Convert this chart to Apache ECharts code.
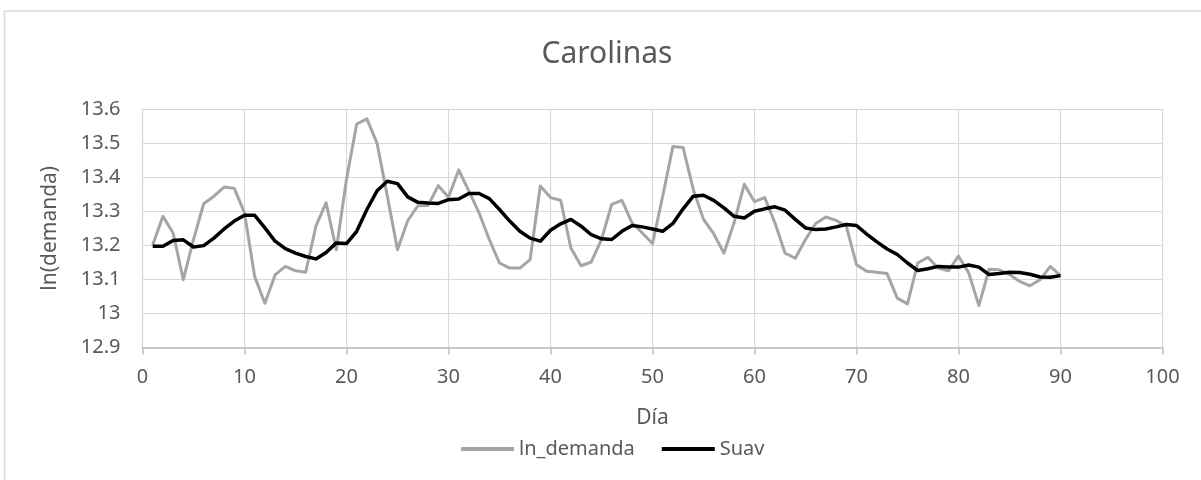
<!DOCTYPE html>
<html>
<head>
<meta charset="utf-8">
<script src="https://cdn.jsdelivr.net/npm/echarts@6/dist/echarts.min.js"></script>
<style>
html,body{margin:0;padding:0;background:#fff;}
#chart{width:1201px;height:480px;}
</style>
</head>
<body>
<div id="chart"></div>
<script>
const titleText = 'Carolinas';
const xName = 'Día';
const yName = 'ln(demanda)';
const seriesNames = ['ln_demanda', 'Suav'];
const days = Array.from({length: 90}, (_, i) => i + 1);
const lnDemanda = [
  13.201, 13.285, 13.236, 13.099, 13.217, 13.322, 13.344, 13.371, 13.367, 13.295,
  13.108, 13.030, 13.113, 13.138, 13.125, 13.121, 13.256, 13.325, 13.187, 13.394,
  13.556, 13.571, 13.499, 13.345, 13.187, 13.272, 13.316, 13.317, 13.375, 13.341,
  13.421, 13.359, 13.295, 13.217, 13.148, 13.133, 13.133, 13.158, 13.374, 13.340,
  13.332, 13.192, 13.140, 13.151, 13.217, 13.320, 13.332, 13.266, 13.236, 13.205,
  13.344, 13.490, 13.487, 13.364, 13.276, 13.234, 13.177, 13.266, 13.379, 13.328,
  13.340, 13.266, 13.177, 13.162, 13.217, 13.264, 13.283, 13.273, 13.256, 13.143,
  13.124, 13.121, 13.117, 13.045, 13.028, 13.148, 13.165, 13.133, 13.125, 13.168,
  13.119, 13.023, 13.130, 13.128, 13.114, 13.094, 13.081, 13.099, 13.138, 13.111
];
const suav = [
  13.197, 13.197, 13.214, 13.216, 13.195, 13.199, 13.221, 13.248, 13.271, 13.288,
  13.288, 13.251, 13.212, 13.190, 13.177, 13.167, 13.160, 13.179, 13.207, 13.205,
  13.241, 13.305, 13.360, 13.388, 13.381, 13.342, 13.326, 13.324, 13.323, 13.334,
  13.336, 13.352, 13.352, 13.337, 13.305, 13.271, 13.241, 13.221, 13.212, 13.244,
  13.263, 13.276, 13.256, 13.231, 13.219, 13.217, 13.241, 13.258, 13.254, 13.248,
  13.241, 13.264, 13.307, 13.344, 13.347, 13.332, 13.310, 13.285, 13.280, 13.300,
  13.307, 13.313, 13.303, 13.276, 13.251, 13.246, 13.248, 13.254, 13.261, 13.258,
  13.233, 13.210, 13.189, 13.173, 13.148, 13.126, 13.131, 13.138, 13.136, 13.136,
  13.142, 13.136, 13.114, 13.117, 13.121, 13.120, 13.115, 13.107, 13.106, 13.111
];

const font = 'Noto Sans';
const txt = '#595959';
const chart = echarts.init(document.getElementById('chart'));
chart.setOption({
  backgroundColor: '#fff',
  animation: false,
  textStyle: {fontFamily: font},
  graphic: [{
    type: 'rect',
    shape: {x: 4.5, y: 11, width: 1220, height: 500},
    style: {fill: 'none', stroke: '#D9D9D9', lineWidth: 1.5},
    silent: true
  }],
  title: {
    text: titleText,
    left: 607,
    top: 54,
    textAlign: 'center',
    textVerticalAlign: 'middle',
    padding: 0,
    textStyle: {fontFamily: font, fontSize: 30, fontWeight: 'normal', color: txt}
  },
  grid: {left: 142.5, right: 38.5, top: 109, bottom: 132.5, containLabel: false},
  legend: {
    left: 456,
    top: 434,
    itemWidth: 53,
    itemHeight: 4,
    itemGap: 27,
    icon: 'rect',
    textStyle: {fontFamily: font, fontSize: 20, color: txt},
    data: [
      {name: seriesNames[0], itemStyle: {color: '#A5A5A5'}},
      {name: seriesNames[1], itemStyle: {color: '#000000'}}
    ]
  },
  xAxis: {
    type: 'value',
    min: 0, max: 100, interval: 10,
    name: xName,
    nameLocation: 'middle',
    nameGap: 60,
    nameTextStyle: {fontFamily: font, fontSize: 21, color: txt},
    axisLine: {show: true, lineStyle: {color: '#BFBFBF', width: 1.5}},
    axisTick: {show: true, length: 7, lineStyle: {color: '#BFBFBF', width: 1.5}},
    axisLabel: {fontFamily: font, fontSize: 20, color: txt, margin: 20},
    splitLine: {show: true, lineStyle: {color: '#D9D9D9', width: 1.2}}
  },
  yAxis: {
    type: 'value',
    min: 12.9, max: 13.6, interval: 0.1,
    name: yName,
    nameLocation: 'middle',
    nameGap: 82,
    nameRotate: 90,
    nameTextStyle: {fontFamily: font, fontSize: 21, color: txt},
    axisLine: {show: true, lineStyle: {color: '#D9D9D9', width: 1.2}},
    axisTick: {show: false},
    axisLabel: {fontFamily: font, fontSize: 20, color: txt, margin: 22,
      formatter: v => String(Math.round(v * 10) / 10)},
    splitLine: {show: true, lineStyle: {color: '#D9D9D9', width: 1.2}}
  },
  series: [
    {
      name: seriesNames[0], type: 'line', showSymbol: false, symbol: 'none',
      data: days.map((d, i) => [d, lnDemanda[i]]),
      lineStyle: {color: '#A5A5A5', width: 3, join: 'round'},
      itemStyle: {color: '#A5A5A5'},
      z: 2
    },
    {
      name: seriesNames[1], type: 'line', showSymbol: false, symbol: 'none',
      data: days.map((d, i) => [d, suav[i]]),
      lineStyle: {color: '#000000', width: 3.5, join: 'round'},
      itemStyle: {color: '#000000'},
      z: 3
    }
  ]
});
</script>
</body>
</html>
